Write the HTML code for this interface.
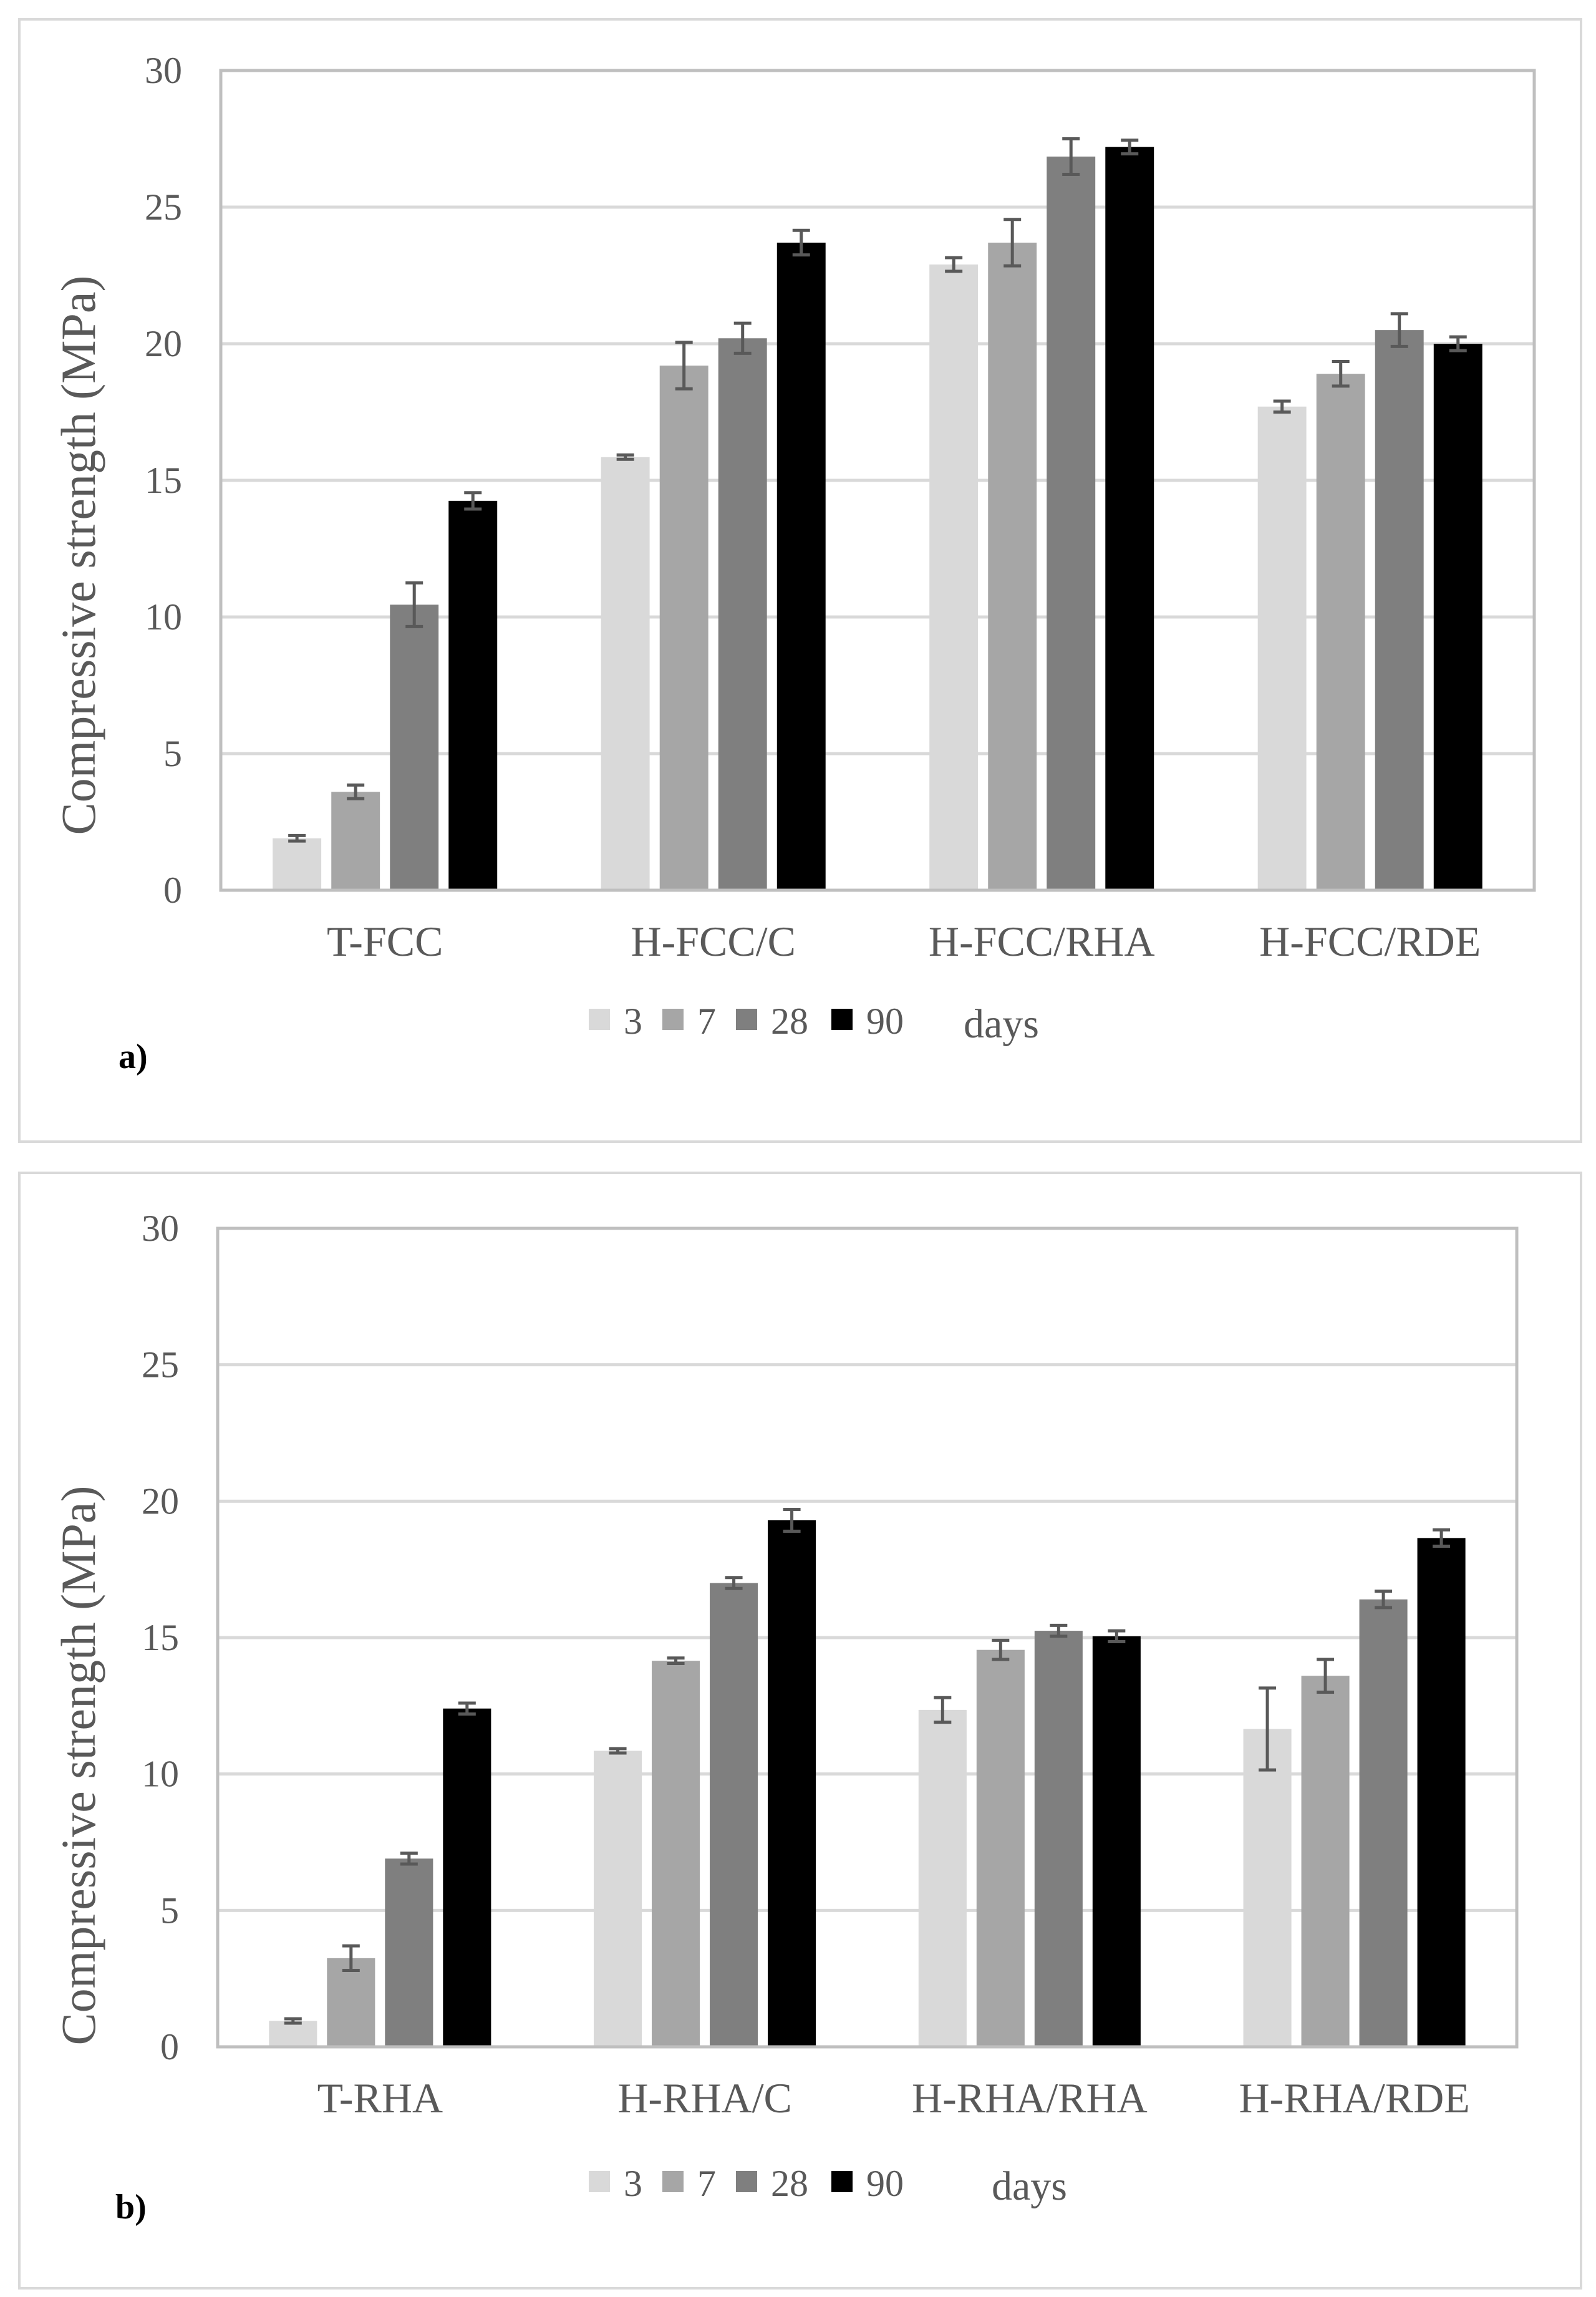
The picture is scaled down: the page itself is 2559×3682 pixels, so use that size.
<!DOCTYPE html>
<html><head><meta charset="utf-8"><style>
html,body{margin:0;padding:0;background:#fff;}
svg{display:block;font-family:"Liberation Serif",serif;}
</style></head><body>
<svg id="s" width="2559" height="3682" viewBox="0 0 2559 3682"></svg>
<script>
const seriesNames=["3","7","28","90"];
const colors=["#d9d9d9","#a6a6a6","#7f7f7f","#000000"];
const yTicks=[0,5,10,15,20,25,30];
const catsA=["T-FCC","H-FCC/C","H-FCC/RHA","H-FCC/RDE"];
const valsA=[[1.9,3.6,10.45,14.25],[15.85,19.2,20.2,23.7],[22.9,23.7,26.85,27.2],[17.7,18.9,20.5,20.0]];
const errsA=[[0.1,0.25,0.8,0.3],[0.08,0.85,0.55,0.45],[0.25,0.85,0.65,0.25],[0.2,0.45,0.6,0.25]];
const catsB=["T-RHA","H-RHA/C","H-RHA/RHA","H-RHA/RDE"];
const valsB=[[0.95,3.25,6.9,12.4],[10.85,14.15,17.0,19.3],[12.35,14.55,15.25,15.05],[11.65,13.6,16.4,18.65]];
const errsB=[[0.08,0.45,0.2,0.2],[0.08,0.1,0.2,0.4],[0.45,0.35,0.2,0.2],[1.5,0.6,0.3,0.3]];

const svg=document.getElementById('s');
const NS="http://www.w3.org/2000/svg";
function mk(tag,attrs,parent,text){const e=document.createElementNS(NS,tag);for(const k in attrs)e.setAttribute(k,attrs[k]);if(text!==undefined)e.textContent=text;(parent||svg).appendChild(e);return e;}

function chart(id,frame,plot,cats,vals,errs,label,legendY,labelPos,titleY){
  const g=mk('g',{});
  
  
  const fr=mk('rect',{x:frame.x,y:frame.y,width:frame.w,height:frame.h,fill:'#fff',stroke:'#d9d9d9','stroke-width':4},g);
  
  
  const L=plot.x0,R=plot.x1,T=plot.y0,B=plot.y1;
  const y=v=>B-(v/30)*(B-T);
  yTicks.forEach(t=>{
    if(t>0&&t<30){const gl=mk('line',{x1:L,x2:R,y1:y(t),y2:y(t),stroke:'#d9d9d9','stroke-width':5},g);
    
    }
    const tl=mk('text',{x:L-62,y:y(t)+20,'font-size':60,fill:'#595959','text-anchor':'end'},g,String(t));
    
    
  });
  const pb=mk('rect',{x:L,y:T,width:R-L,height:B-T,fill:'none',stroke:'#bfbfbf','stroke-width':5},g);
  
  
  const gw=(R-L)/cats.length;
  cats.forEach((c,ci)=>{
    const gx=L+ci*gw;
    vals[ci].forEach((v,si)=>{
      const bx=gx+gw*0.158+si*gw*0.1786, bw=gw*0.148;
      const r=mk('rect',{x:bx,y:y(v),width:bw,height:B-y(v),fill:colors[si]},g);
      
      
      const cx=bx+bw/2,e=errs[ci][si];
      const eb=mk('path',{d:`M${cx-14},${y(v+e)}H${cx+14}M${cx},${y(v+e)}V${y(v-e)}M${cx-14},${y(v-e)}H${cx+14}`,stroke:'#595959','stroke-width':5,fill:'none'},g);
      
      
    });
    const ct=mk('text',{x:gx+gw/2,y:B+105,'font-size':68,fill:'#595959','text-anchor':'middle'},g,c);
    
    
  });
  const base=mk('line',{x1:L,x2:R,y1:B,y2:B,stroke:'#bfbfbf','stroke-width':5},g);
  
  
  const yt=mk('text',{x:0,y:0,'font-size':78,fill:'#595959','text-anchor':'middle',transform:`translate(152,${titleY}) rotate(-90)`},g,'Compressive strength (MPa)');
  
  
  const lx=[944,1062,1180,1333];
  seriesNames.forEach((n,i)=>{
    const sq=mk('rect',{x:lx[i],y:legendY-40,width:34,height:34,fill:colors[i]},g);
    
    
    const lt=mk('text',{x:lx[i]+56,y:legendY,'font-size':60,fill:'#595959'},g,n);
    
    
  });
  const dt=mk('text',{x:labelPos.days,y:legendY+6,'font-size':66,fill:'#595959'},g,'days');
  
  
  const pl=mk('text',{x:labelPos.x,y:labelPos.y,'font-size':56,'font-weight':'bold',fill:'#000'},g,label);
  
  
}
chart('chart-a',{x:31,y:31,w:2504,h:1799},{x0:354,x1:2460,y0:113,y1:1427},catsA,valsA,errsA,'a)',1657,{x:190,y:1712,days:1545},890);
chart('chart-b',{x:31,y:1880,w:2504,h:1788},{x0:349,x1:2432,y0:1969,y1:3281},catsB,valsB,errsB,'b)',3520,{x:185,y:3556,days:1590},2830);
</script>
</body></html>
